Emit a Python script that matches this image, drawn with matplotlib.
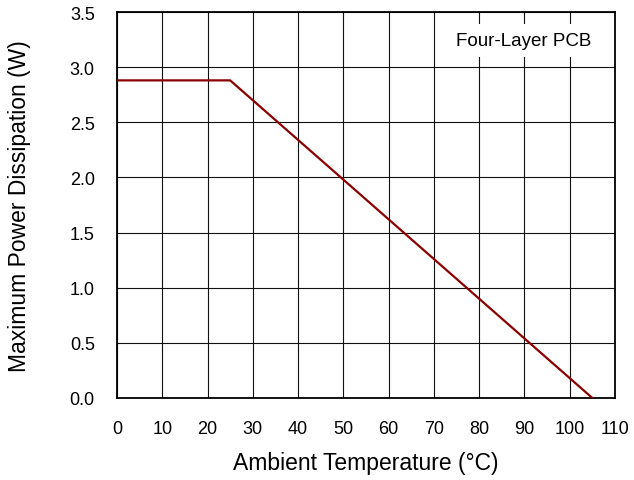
import matplotlib
matplotlib.use("Agg")
import matplotlib.pyplot as plt

plt.rcParams["font.family"] = ["Liberation Sans", "DejaVu Sans"]

# derating curve: flat up to 25 °C, then linear down to zero at 105 °C
temp_c = [0, 25, 105]
power_w = [2.88, 2.88, 0.0]

x_ticks = list(range(0, 111, 10))
y_ticks = [0.0, 0.5, 1.0, 1.5, 2.0, 2.5, 3.0, 3.5]

fig = plt.figure(figsize=(6.34, 4.81), dpi=100)
ax = fig.add_axes([117 / 634, 82 / 481, 498 / 634, 386 / 481])

ax.plot(temp_c, power_w, color="#8b0000", lw=1.6, zorder=3)

ax.set_xlim(0, 110)
ax.set_ylim(0, 3.5)
ax.set_xticks(x_ticks)
ax.set_yticks(y_ticks)
ax.set_yticklabels([f"{v:.1f}" for v in y_ticks])
ax.grid(True, color="#111111", lw=0.8)
ax.tick_params(length=0, labelsize=13)
ax.tick_params(axis="x", pad=16)
ax.tick_params(axis="y", pad=16)
for s in ax.spines.values():
    s.set_linewidth(1.3)

ax.set_xlabel("Ambient Temperature (°C)", fontsize=16.5, labelpad=10)
ax.set_ylabel("Maximum Power Dissipation (W)", fontsize=16.5, labelpad=28)

ax.text(0.817, 0.926, "Four-Layer PCB", transform=ax.transAxes, ha="center",
        va="center", fontsize=13.5, zorder=4,
        bbox=dict(facecolor="white", edgecolor="none", pad=6))

fig.savefig("out.png", dpi=100)
